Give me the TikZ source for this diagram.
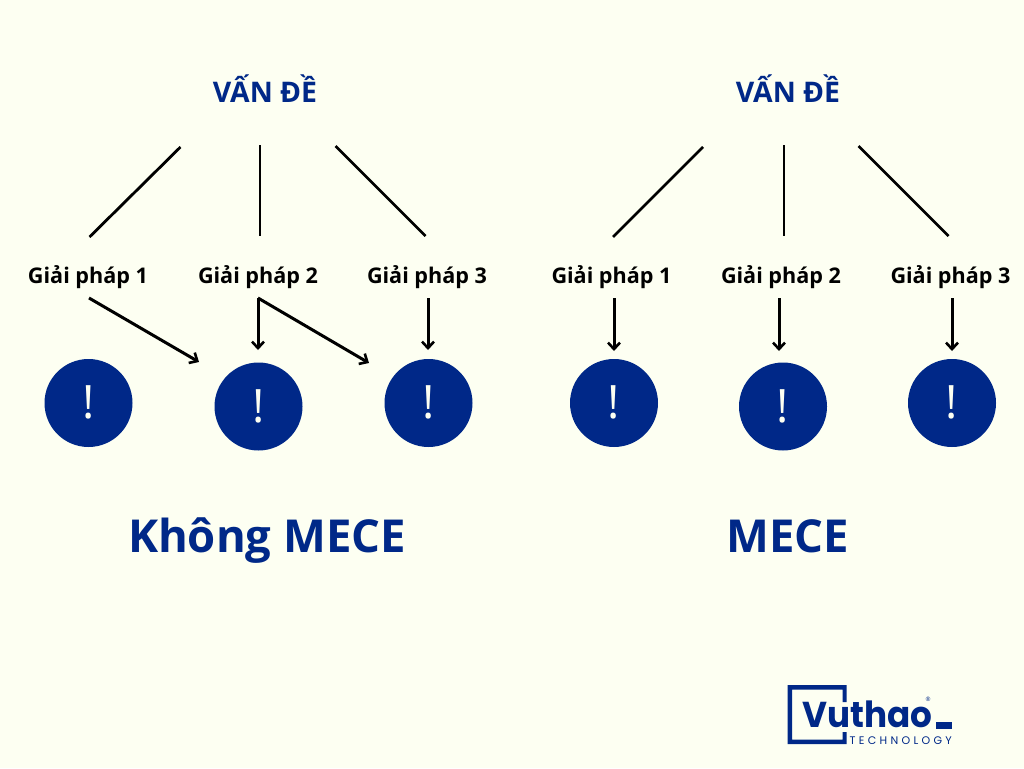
\documentclass[tikz,border=0pt]{standalone}
\usepackage{fontspec}
\setmainfont{Open Sans}
\newfontfamily\logofont{Poppins}
\newfontfamily\techfont[LetterSpace=30]{Poppins}
\definecolor{bgc}{HTML}{FDFFF2}
\definecolor{navy}{HTML}{002888}
\usetikzlibrary{arrows.meta}
\tikzset{
  sol/.style={font=\bfseries\fontsize{21.6}{26}\selectfont,text=black,inner sep=0pt,anchor=base},
  head/.style={font=\bfseries\fontsize{28.4}{34}\selectfont,text=navy,inner sep=0pt,anchor=base},
  big/.style={font=\bfseries\fontsize{45.4}{54}\selectfont,text=navy,inner sep=0pt,anchor=base},
  dot/.style={circle,fill=navy,minimum size=88pt,inner sep=0pt},
  excl/.style={text=bgc,font=\fontsize{46}{50}\selectfont,inner sep=0pt,anchor=base},
  ln/.style={line width=2.8pt,black},
  arr/.style={line width=3pt,black,-{Straight Barb[length=6.5pt,width=12pt,line width=2.6pt]}},
}
\begin{document}
\begin{tikzpicture}[x=1pt,y=-1pt]
\useasboundingbox (0,0) rectangle (1024,768);
\fill[bgc] (0,0) rectangle (1024,768);
\node[head] (vl) at (265,102) {VẤN ĐỀ};
\node[head] (vr) at (788,102) {VẤN ĐỀ};
\node[sol] (a1) at (88,283) {Giải pháp 1};
\node[sol] (a2) at (258,283) {Giải pháp 2};
\node[sol] (a3) at (427,283) {Giải pháp 3};
\node[sol] (b1) at (611.5,283) {Giải pháp 1};
\node[sol] (b2) at (781,283) {Giải pháp 2};
\node[sol] (b3) at (950.5,283) {Giải pháp 3};
\node[dot] (c1) at (88.5,403) {};
\node[dot] (c2) at (258.5,406.5) {};
\node[dot] (c3) at (428.5,403) {};
\node[dot] (d1) at (614,403) {};
\node[dot] (d2) at (783,406.5) {};
\node[dot] (d3) at (952,403) {};
\foreach \n/\x/\y in {e1/88.5/418.5,e2/258.5/422,e3/428.5/418.5,e4/614/418.5,e5/783/422,e6/952/418.5}
  \node[excl] (\n) at (\x,\y) {!};
\node[big] (t1) at (267,552.5) {Không MECE};
\node[big] (t2) at (788,552.5) {MECE};
\coordinate (l1s) at (180.5,147); \coordinate (l1e) at (89.5,237);
\coordinate (l2s) at (260,145);   \coordinate (l2e) at (260,236);
\coordinate (l3s) at (335.5,146); \coordinate (l3e) at (425.5,236);
\coordinate (r1s) at (703,147);   \coordinate (r1e) at (613,237);
\coordinate (r2s) at (784,145);   \coordinate (r2e) at (784,236);
\coordinate (r3s) at (858.5,146); \coordinate (r3e) at (948.5,236);
\draw[ln] (l1s) -- (l1e);
\draw[ln] (l2s) -- (l2e);
\draw[ln] (l3s) -- (l3e);
\draw[ln] (r1s) -- (r1e);
\draw[ln] (r2s) -- (r2e);
\draw[ln] (r3s) -- (r3e);
\coordinate (p1) at (89,298);
\coordinate (p2) at (258,298);
\coordinate (p3) at (428,298);
\coordinate (q1) at (199,362);
\coordinate (q2) at (258,350);
\coordinate (q3) at (369,363);
\coordinate (q4) at (428,350);
\draw[arr] (p1) -- (q1);
\draw[arr] (p2) -- (q2);
\draw[arr] (p2) -- (q3);
\draw[arr] (p3) -- (q4);
\coordinate (s1) at (614,298); \coordinate (f1) at (614,351);
\coordinate (s2) at (779,298); \coordinate (f2) at (779,351);
\coordinate (s3) at (952,298); \coordinate (f3) at (952,351);
\draw[arr] (s1) -- (f1);
\draw[arr] (s2) -- (f2);
\draw[arr] (s3) -- (f3);
% logo
\fill[navy] (846.5,702) -- (846.5,685) -- (787.5,685) -- (787.5,744) -- (846.5,744) -- (846.5,732) -- (842.5,732) -- (842.5,739.5) -- (792,739.5) -- (792,689.5) -- (842.5,689.5) -- (842.5,702) -- cycle;
\node[font=\logofont\fontsize{36}{38}\selectfont,text=navy,inner sep=0pt,anchor=base west,xscale=0.95] (logo) at (802,727) {\textbf{Vuthao}};
\fill[navy] (936,722) rectangle (951.5,729);
\node[font=\techfont\fontsize{11}{11}\selectfont,text=navy,inner sep=0pt,anchor=base east] (tech) at (952,744.5) {TECHNOLOGY};
\node[font=\fontsize{6}{7}\selectfont,text=navy,inner sep=0pt] (reg) at (928,699) {®};
\end{tikzpicture}
\end{document}
